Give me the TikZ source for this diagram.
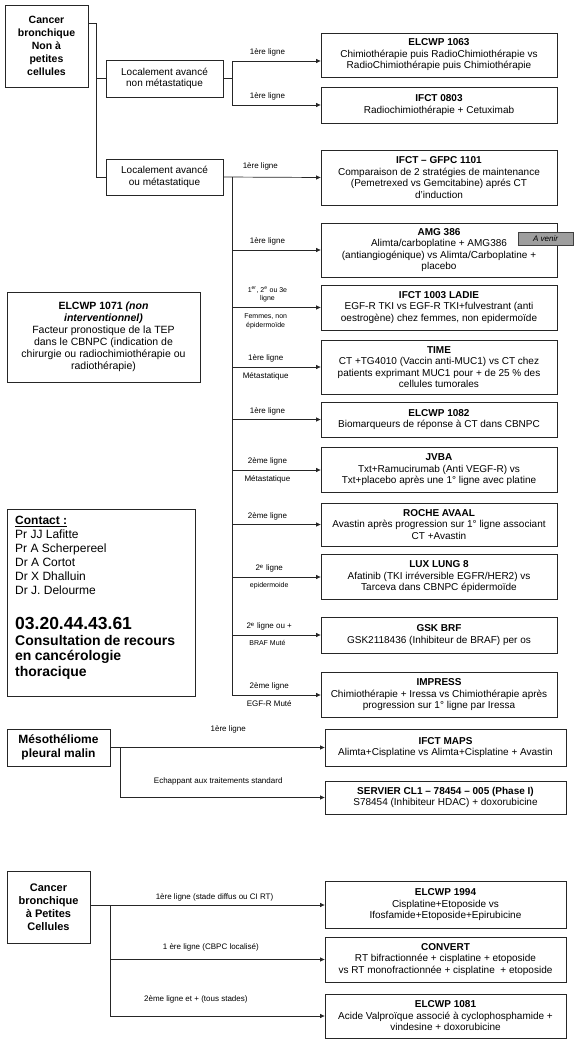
\documentclass[tikz,border=0pt]{standalone}
\usepackage{fontspec}
\setmainfont{Liberation Sans}
\usetikzlibrary{arrows.meta,positioning}

\begin{document}
\begin{tikzpicture}[x=1pt, y=-1pt,
    essai/.style={draw=black!85, line width=0.8pt, align=center, minimum width=236pt, inner sep=2pt, font=\fontsize{10}{11.5}\selectfont},
    essaibas/.style={essai, minimum width=241pt},
    categorie/.style={draw=black!85, line width=0.8pt, align=center, inner sep=2pt, font=\bfseries\fontsize{10}{12}\selectfont},
    etiquette/.style={font=\fontsize{8}{9}\selectfont, align=center, inner sep=0pt},
    petite/.style={font=\fontsize{7}{8.5}\selectfont, align=center, inner sep=0pt},
    fleche/.style={-{Triangle[length=4.5pt,width=4pt]}},
    trait/.style={draw=black!85, line width=0.7pt}]
    \useasboundingbox (0,0) rectangle (576,1048);

    % Cancer bronchique non a petites cellules
    \node[categorie, font=\bfseries\fontsize{10.5}{13}\selectfont, minimum width=83pt, minimum height=82pt] (cbnpc) at (46.5,46) {Cancer\\bronchique\\Non à\\petites\\cellules};
    \node[categorie, font=\fontsize{10}{11.7}\selectfont, minimum width=117pt, minimum height=37pt] (lanm) at (164.5,78.5) {Localement avancé\\non métastatique};
    \node[categorie, font=\fontsize{10}{11.7}\selectfont, minimum width=117pt, minimum height=36pt] (lam) at (164.5,177) {Localement avancé\\ou métastatique};
    \coordinate (tronc) at (96,23);
    \draw[trait] (cbnpc.east |- tronc) -- (tronc) |- (lam.west);
    \draw[trait] (tronc |- lanm.west) -- (lanm.west);

    % non metastatique
    \node[essai, minimum height=44pt] (elcwp1063) at (439,55) {\textbf{ELCWP 1063}\\Chimiothérapie puis RadioChimiothérapie vs\\RadioChimiothérapie puis Chimiothérapie};
    \node[essai, minimum height=36pt] (ifct0803) at (439,105) {\textbf{IFCT 0803}\\Radiochimiothérapie + Cetuximab};
    \coordinate (nud) at (232,61);
    \draw[trait] (lanm.east) -- (lanm.east -| nud);
    \draw[trait, fleche] (nud |- ifct0803.west) |- node[etiquette, pos=0.7, above=4pt] {1ère ligne} (elcwp1063.west |- nud);
    \draw[trait, fleche] (nud |- ifct0803.west) -- node[etiquette, pos=0.4, above=4pt] {1ère ligne} (ifct0803.west);

    % avance ou metastatique
    \node[essai, minimum height=55pt] (gfpc) at (439,177.5) {\textbf{IFCT – GFPC 1101}\\Comparaison de 2 stratégies de maintenance\\(Pemetrexed vs Gemcitabine) aprés CT\\d'induction};
    \node[essai, minimum height=54pt] (amg) at (439,250) {\textbf{AMG 386}\\Alimta/carboplatine + AMG386\\(antiangiogénique) vs Alimta/Carboplatine +\\placebo};
    \node[draw=black!75, fill=black!38, line width=0.6pt, font=\itshape\fontsize{8}{9}\selectfont, minimum width=55pt, minimum height=13pt, inner sep=1pt] (avenir) at (545.5,238.5) {A venir};
    \node[essai, minimum height=45pt] (ladie) at (439,307.5) {\textbf{IFCT 1003 LADIE}\\EGF-R TKI vs EGF-R TKI+fulvestrant (anti\\oestrogène) chez femmes, non epidermoïde};
    \node[essai, minimum height=54pt] (time) at (439,367) {\textbf{TIME}\\CT +TG4010 (Vaccin anti-MUC1) vs CT chez\\patients exprimant MUC1 pour + de 25 \% des\\cellules tumorales};
    \node[essai, minimum height=35pt] (elcwp1082) at (439,419.5) {\textbf{ELCWP 1082}\\Biomarqueurs de réponse à CT dans CBNPC};
    \node[essai, minimum height=45pt] (jvba) at (439,470) {\textbf{JVBA}\\Txt+Ramucirumab (Anti VEGF-R) vs\\Txt+placebo après une 1° ligne avec platine};
    \node[essai, minimum height=43pt] (roche) at (439,524.5) {\textbf{ROCHE AVAAL}\\Avastin après progression sur 1° ligne associant\\CT +Avastin};
    \node[essai, minimum height=45pt] (lux) at (439,577) {\textbf{LUX LUNG 8}\\Afatinib (TKI irréversible EGFR/HER2) vs\\Tarceva dans CBNPC épidermoïde};
    \node[essai, minimum height=36pt] (gsk) at (439,635) {\textbf{GSK BRF}\\GSK2118436 (Inhibiteur de BRAF) per os};
    \node[essai, minimum height=45pt] (impress) at (439,695) {\textbf{IMPRESS}\\Chimiothérapie + Iressa vs Chimiothérapie après\\progression sur 1° ligne par Iressa};
    \coordinate (axe) at (232,695);
    \draw[trait, fleche] (lam.east) -- node[etiquette, pos=0.38, above=7pt] {1ère ligne} (gfpc.west);
    \draw[trait] (lam.east -| axe) -- (axe);
    \draw[trait, fleche] (axe |- amg.west) -- node[etiquette, pos=0.4, above=4pt] {1ère ligne} (amg.west);
    \draw[trait, fleche] (axe |- ladie.west) -- node[petite, pos=0.4, above=5pt] {1\textsuperscript{er}, 2\textsuperscript{e} ou 3e\\ligne}
        node[petite, pos=0.38, below=6pt] {Femmes, non\\épidermoïde} (ladie.west);
    \draw[trait, fleche] (axe |- time.west) -- node[etiquette, pos=0.38, above=4pt] {1ère ligne}
        node[etiquette, pos=0.38, below=5pt] {Métastatique} (time.west);
    \draw[trait, fleche] (axe |- elcwp1082.west) -- node[etiquette, pos=0.4, above=4pt] {1ère ligne} (elcwp1082.west);
    \draw[trait, fleche] (axe |- jvba.west) -- node[etiquette, pos=0.4, above=4pt] {2ème ligne}
        node[etiquette, pos=0.4, below=5pt] {Métastatique} (jvba.west);
    \draw[trait, fleche] (axe |- roche.west) -- node[etiquette, pos=0.4, above=4pt] {2ème ligne} (roche.west);
    \draw[trait, fleche] (axe |- lux.west) -- node[etiquette, pos=0.42, above=4pt] {2\textsuperscript{e} ligne}
        node[petite, pos=0.42, below=5pt] {epidermoide} (lux.west);
    \draw[trait, fleche] (axe |- gsk.west) -- node[etiquette, pos=0.42, above=4pt] {2\textsuperscript{e} ligne ou +}
        node[petite, pos=0.4, below=5pt] {BRAF Muté} (gsk.west);
    \draw[trait, fleche] (axe) -- node[etiquette, pos=0.42, above=4pt] {2ème ligne}
        node[etiquette, pos=0.42, below=5pt] {EGF-R Muté} (impress.west);

    % etude non interventionnelle
    \node[draw=black!85, line width=0.8pt, align=center, minimum width=193pt, minimum height=90pt, inner sep=2pt, font=\fontsize{10.5}{12}\selectfont] (elcwp1071) at (103.5,337)
        {\textbf{ELCWP 1071 \textit{(non}}\\\textbf{\textit{interventionnel)}}\\Facteur pronostique de la TEP\\dans le CBNPC (indication de\\chirurgie ou radiochimiothérapie ou\\radiothérapie)};

    % contact
    \node[draw=black!85, line width=0.8pt, minimum width=188pt, minimum height=187pt, anchor=north west] (contact) at (7,509) {};
    \node[anchor=north west, align=left, text width=180pt, inner sep=0pt] (contacttexte) at ([shift={(8,7)}]contact.north west)
        {{\fontsize{12}{14}\selectfont\underline{\textbf{Contact :}}\\Pr JJ Lafitte\\Pr A Scherpereel\\Dr A Cortot\\Dr X Dhalluin\\Dr J. Delourme\par}
         \vspace{15pt}
         {\fontsize{17.5}{20}\selectfont\bfseries 03.20.44.43.61\par}
         {\fontsize{14}{15.5}\selectfont\bfseries Consultation de recours\\en cancérologie\\thoracique\par}};

    % mesotheliome
    \node[categorie, font=\bfseries\fontsize{12}{14}\selectfont, minimum width=103pt, minimum height=37pt] (meso) at (58.5,747.5) {Mésothéliome\\pleural malin};
    \node[essaibas, minimum height=37pt] (maps) at (445.5,747.5) {\textbf{IFCT MAPS}\\Alimta+Cisplatine vs Alimta+Cisplatine + Avastin};
    \node[essaibas, minimum height=33pt] (servier) at (445.5,797.5) {\textbf{SERVIER CL1 – 78454 – 005 (Phase I)}\\S78454 (Inhibiteur HDAC) + doxorubicine};
    \coordinate (tronc2) at (120,747.5);
    \draw[trait, fleche] (meso.east) -- node[etiquette, pos=0.55, above=14pt] {1ère ligne} (maps.west);
    \draw[trait] (tronc2) -- (tronc2 |- servier.west);
    \draw[trait, fleche] (tronc2 |- servier.west) -- node[etiquette, pos=0.48, above=12pt] {Echappant aux traitements standard} (servier.west);

    % Cancer bronchique a petites cellules
    \node[categorie, font=\bfseries\fontsize{11}{13}\selectfont, minimum width=83pt, minimum height=72pt] (cbpc) at (48.5,907) {Cancer\\bronchique\\à Petites\\Cellules};
    \node[essaibas, minimum height=47pt] (elcwp1994) at (445.5,905) {\textbf{ELCWP 1994}\\Cisplatine+Etoposide vs\\Ifosfamide+Etoposide+Epirubicine};
    \node[essaibas, minimum height=45pt] (convert) at (445.5,959.5) {\textbf{CONVERT}\\RT bifractionnée + cisplatine + etoposide\\vs RT monofractionnée + cisplatine~ + etoposide};
    \node[essaibas, minimum height=44pt] (elcwp1081) at (445.5,1016) {\textbf{ELCWP 1081}\\Acide Valproïque associé à cyclophosphamide +\\vindesine + doxorubicine};
    \coordinate (tronc3) at (110,905);
    \draw[trait, fleche] (cbpc.east |- elcwp1994.west) -- node[etiquette, pos=0.53, above=4pt] {1ère ligne (stade diffus ou CI RT)} (elcwp1994.west);
    \draw[trait] (tronc3) -- (tronc3 |- elcwp1081.west);
    \draw[trait, fleche] (tronc3 |- convert.west) -- node[etiquette, pos=0.47, above=8pt] {1 ère ligne (CBPC localisé)} (convert.west);
    \draw[trait, fleche] (tronc3 |- elcwp1081.west) -- node[etiquette, pos=0.4, above=13pt] {2ème ligne et + (tous stades)} (elcwp1081.west);
\end{tikzpicture}
\end{document}
